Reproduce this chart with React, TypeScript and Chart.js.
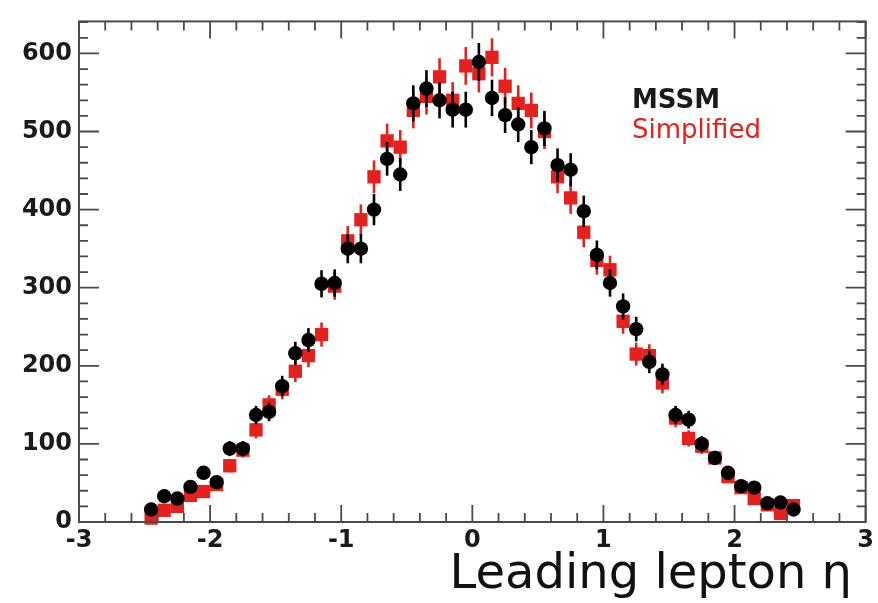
import React, { useEffect, useRef } from "react";
import { Chart, registerables } from "chart.js";

Chart.register(...registerables);

const etaBins = [
  -2.45, -2.35, -2.25, -2.15, -2.05, -1.95, -1.85, -1.75, -1.65, -1.55,
  -1.45, -1.35, -1.25, -1.15, -1.05, -0.95, -0.85, -0.75, -0.65, -0.55,
  -0.45, -0.35, -0.25, -0.15, -0.05, 0.05, 0.15, 0.25, 0.35, 0.45,
  0.55, 0.65, 0.75, 0.85, 0.95, 1.05, 1.15, 1.25, 1.35, 1.45,
  1.55, 1.65, 1.75, 1.85, 1.95, 2.05, 2.15, 2.25, 2.35, 2.45,
];

const mssmCounts = [
  16, 33, 30, 45, 63, 51, 94, 94, 137, 141,
  174, 216, 233, 305, 306, 350, 350, 400, 465, 445,
  536, 555, 540, 528, 528, 589, 543, 521, 509, 480,
  504, 457, 451, 398, 342, 306, 276, 247, 205, 189,
  137, 131, 100, 82, 63, 46, 44, 24, 25, 16,
];

const simplifiedCounts = [
  5, 15, 20, 34, 39, 48, 72, 92, 118, 150,
  170, 193, 213, 240, 302, 360, 387, 442, 488, 480,
  527, 545, 570, 540, 584, 574, 595, 558, 536, 527,
  500, 442, 415, 371, 335, 323, 257, 215, 213, 178,
  133, 107, 97, 82, 58, 44, 30, 22, 11, 21,
];

const seriesNames = ["MSSM", "Simplified"];
const xTickValues = [-3, -2, -1, 0, 1, 2, 3];
const yTickValues = [0, 100, 200, 300, 400, 500, 600];
const xTitle = "Leading lepton η";

const BLACK = "#000000";
const RED = "#e3211e";
const FRAME = "#4a4a4a";
const FONT = "'DejaVu Sans', sans-serif";

const rootStylePlugin = {
  id: "rootStyle",
  beforeDatasetDraw(chart: any, args: any) {
    const ds = chart.data.datasets[args.index];
    const ys = chart.scales.y;
    const ctx = chart.ctx;
    ctx.save();
    ctx.strokeStyle = ds.borderColor;
    ctx.lineWidth = 2.6;
    args.meta.data.forEach((pt: any, i: number) => {
      const v = ds.data[i].y;
      const e = Math.sqrt(v);
      ctx.beginPath();
      ctx.moveTo(pt.x, ys.getPixelForValue(v + e));
      ctx.lineTo(pt.x, ys.getPixelForValue(Math.max(0, v - e)));
      ctx.stroke();
    });
    ctx.restore();
  },
  afterDraw(chart: any) {
    const ctx = chart.ctx;
    const { left, right, top, bottom } = chart.chartArea;
    const xs = chart.scales.x;
    const ys = chart.scales.y;
    ctx.save();
    ctx.strokeStyle = FRAME;
    ctx.lineWidth = 2;
    ctx.strokeRect(left, top, right - left, bottom - top);
    ctx.lineWidth = 1.8;
    // x ticks (bottom and top), every 0.2
    for (let i = 0; i <= 30; i++) {
      const v = -3 + i * 0.2;
      const px = xs.getPixelForValue(v);
      const len = i % 5 === 0 ? 17 : 9;
      ctx.beginPath();
      ctx.moveTo(px, bottom);
      ctx.lineTo(px, bottom - len);
      ctx.moveTo(px, top);
      ctx.lineTo(px, top + len);
      ctx.stroke();
    }
    // y ticks (left and right), every 20
    for (let i = 0; i <= 32; i++) {
      const v = i * 20;
      const py = ys.getPixelForValue(v);
      if (py < top - 0.5) break;
      const len = i % 5 === 0 ? 20 : 9;
      ctx.beginPath();
      ctx.moveTo(left, py);
      ctx.lineTo(left + len, py);
      ctx.moveTo(right, py);
      ctx.lineTo(right - len, py);
      ctx.stroke();
    }
    // legend text
    ctx.textAlign = "left";
    ctx.textBaseline = "alphabetic";
    ctx.font = `bold 26px ${FONT}`;
    ctx.fillStyle = "#1a1a1a";
    ctx.fillText(seriesNames[0], 632, 108);
    ctx.font = `26px ${FONT}`;
    ctx.fillStyle = RED;
    ctx.fillText(seriesNames[1], 632, 138);
    // x axis title
    ctx.font = `48px ${FONT}`;
    ctx.fillStyle = "#111111";
    ctx.textAlign = "right";
    ctx.fillText(xTitle, 852, 588);
    ctx.restore();
  },
};

export default function App() {
  const canvasRef = useRef<HTMLCanvasElement | null>(null);

  useEffect(() => {
    if (!canvasRef.current) return;
    const chart = new Chart(canvasRef.current, {
      type: "scatter",
      data: {
        datasets: [
          {
            label: seriesNames[0],
            data: etaBins.map((x, i) => ({ x, y: mssmCounts[i] })),
            pointStyle: "circle",
            pointRadius: 7.2,
            pointHoverRadius: 7.2,
            backgroundColor: BLACK,
            borderColor: BLACK,
            borderWidth: 0,
            clip: false,
          },
          {
            label: seriesNames[1],
            data: etaBins.map((x, i) => ({ x, y: simplifiedCounts[i] })),
            pointStyle: "rect",
            pointRadius: 9.4,
            pointHoverRadius: 9.4,
            backgroundColor: RED,
            borderColor: RED,
            borderWidth: 0,
            clip: false,
          },
        ],
      },
      options: {
        responsive: false,
        animation: false,
        events: [],
        layout: { padding: { top: 12, right: 10, left: 0, bottom: 0 } },
        plugins: {
          legend: { display: false },
          tooltip: { enabled: false },
          title: { display: false },
        },
        scales: {
          x: {
            type: "linear",
            min: -3,
            max: 3,
            afterFit: (s: any) => {
              s.height = 81;
            },
            afterBuildTicks: (s: any) => {
              s.ticks = xTickValues.map((v) => ({ value: v }));
            },
            grid: { display: false, drawTicks: false },
            border: { display: false },
            ticks: {
              padding: 4,
              color: "#1a1a1a",
              font: { family: FONT, size: 24, weight: "bold" },
              maxRotation: 0,
              callback: (v: any) => String(v),
            },
          },
          y: {
            type: "linear",
            min: 0,
            max: 641,
            afterFit: (s: any) => {
              s.width = 79;
            },
            afterBuildTicks: (s: any) => {
              s.ticks = yTickValues.map((v) => ({ value: v }));
            },
            grid: { display: false, drawTicks: false },
            border: { display: false },
            ticks: {
              padding: 7,
              color: "#1a1a1a",
              font: { family: FONT, size: 24, weight: "bold" },
              callback: (v: any) => String(v),
            },
          },
        },
      },
      plugins: [rootStylePlugin],
    });
    return () => chart.destroy();
  }, []);

  return (
    <div style={{ position: "fixed", left: 0, top: 0, width: 878, height: 603, background: "#ffffff" }}>
      <canvas ref={canvasRef} width={878} height={603} style={{ display: "block" }} />
    </div>
  );
}
